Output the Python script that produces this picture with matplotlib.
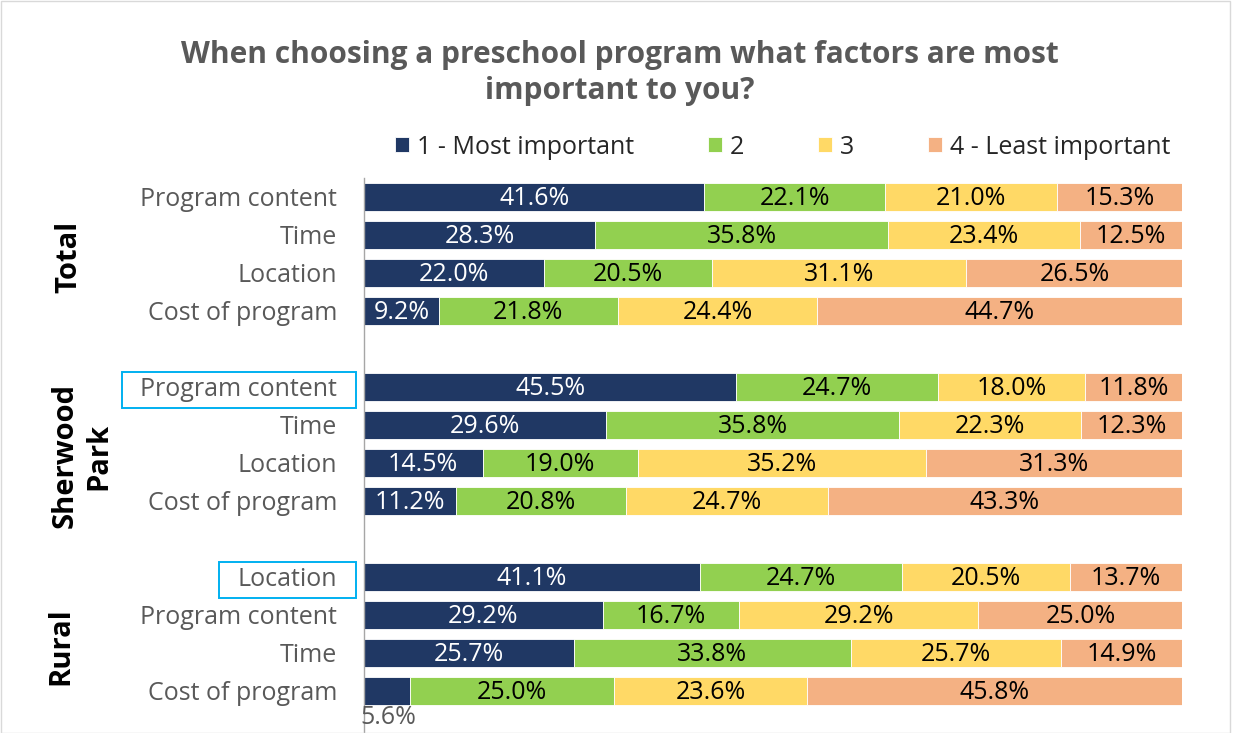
import matplotlib
matplotlib.use("Agg")
import matplotlib.pyplot as plt
from matplotlib.patches import Rectangle

plt.rcParams['font.family'] = ['Open Sans', 'DejaVu Sans']

title = "When choosing a preschool program what factors are most\nimportant to you?"
series_names = ["1 - Most important", "2", "3", "4 - Least important"]
colors = ["#203864", "#92D050", "#FFD966", "#F4B183"]

groups = ["Total", "Sherwood\nPark", "Rural"]
rows_total = ["Program content", "Time", "Location", "Cost of program"]
rows_sherwood = ["Program content", "Time", "Location", "Cost of program"]
rows_rural = ["Location", "Program content", "Time", "Cost of program"]

# values per series, order: Total rows, Sherwood rows, Rural rows
s1 = [41.6, 28.3, 22.0, 9.2, 45.5, 29.6, 14.5, 11.2, 41.1, 29.2, 25.7, 5.6]
s2 = [22.1, 35.8, 20.5, 21.8, 24.7, 35.8, 19.0, 20.8, 24.7, 16.7, 33.8, 25.0]
s3 = [21.0, 23.4, 31.1, 24.4, 18.0, 22.3, 35.2, 24.7, 20.5, 29.2, 25.7, 23.6]
s4 = [15.3, 12.5, 26.5, 44.7, 11.8, 12.3, 31.3, 43.3, 13.7, 25.0, 14.9, 45.8]
highlight = [(1, 0), (2, 0)]  # (group, row) with blue box

W, H = 1239, 733
fig = plt.figure(figsize=(W / 100, H / 100), dpi=100)
ax_l, ax_r, ax_t, ax_b = 364, 1182, 178, 733
ax = fig.add_axes([ax_l / W, 1 - ax_b / H, (ax_r - ax_l) / W, (ax_b - ax_t) / H])

FS = 18
row_labels = rows_total + rows_sherwood + rows_rural
pos = []
for g in range(3):
    for r in range(4):
        pos.append(g * 5 + r)

series = [s1, s2, s3, s4]
left = [0.0] * len(pos)
containers = []
for k, (vals, c, name) in enumerate(zip(series, colors, series_names)):
    bc = ax.barh(pos, vals, left=left, color=c, height=0.72, label=name,
                 edgecolor='white', linewidth=0.6)
    containers.append(bc)
    tc = 'white' if k == 0 else 'black'
    for i, (p, v) in enumerate(zip(pos, vals)):
        if v < 6:
            ax.text(left[i] - 0.5, p + 0.36, f"{v:.1f}%", ha='left', va='top',
                    color='#595959', fontsize=FS)
        else:
            ax.text(left[i] + v / 2, p + 0.03, f"{v:.1f}%", ha='center', va='center',
                    color=tc, fontsize=FS)
    left = [a + b for a, b in zip(left, vals)]

ax.set_xlim(0, 100)
ax.set_ylim(13.5 + 23 / 38, -0.5)
ax.set_yticks(pos)
ax.set_yticklabels(row_labels, fontsize=FS, color='#595959')
ax.tick_params(axis='y', length=0, pad=19.5)
ax.set_xticks([])
for s in ['top', 'right', 'bottom']:
    ax.spines[s].set_visible(False)
ax.spines['left'].set_color('#A6A6A6')
ax.spines['left'].set_linewidth(1)

# group labels (positions in figure pixels)
group_xy = [(69, 257), (82, 456), (61, 646)]
for (gx, gy), name in zip(group_xy, groups):
    fig.text(gx / W, 1 - gy / H, name, rotation=90, ha='center', va='center',
             fontsize=21, fontweight='bold', color='black', linespacing=1.25)

fig.text(620 / W, 1 - 73 / H, title, ha='center', va='center', fontsize=21.5,
         fontweight='bold', color='#595959', linespacing=1.25)

fig.legend(handles=containers, labels=series_names, loc='center',
           bbox_to_anchor=(783 / W, 1 - 147 / H), ncol=4, frameon=False,
           fontsize=FS, handlelength=0.56, handleheight=0.56, handletextpad=0.32,
           columnspacing=2.95, labelcolor='#262626', borderaxespad=0, borderpad=0)

fig.patches.append(Rectangle((1 / W, 0), 1 - 10 / W, 1 - 1 / H, transform=fig.transFigure,
                             fill=False, edgecolor='#D9D9D9', linewidth=1))

# blue highlight boxes around selected tick labels
fig.canvas.draw()
ticklabels = ax.get_yticklabels()
for g, r in highlight:
    bb = ticklabels[g * 4 + r].get_window_extent()
    yc_px = (bb.y0 + bb.y1) / 2
    x0 = bb.x0 - 18
    x1 = ax_l - 8
    fig.patches.append(Rectangle((x0 / W, (yc_px - 18) / H), (x1 - x0) / W, 36 / H,
                                 transform=fig.transFigure, fill=False,
                                 edgecolor='#00B0F0', linewidth=1.4))

fig.savefig("out.png", dpi=100)
